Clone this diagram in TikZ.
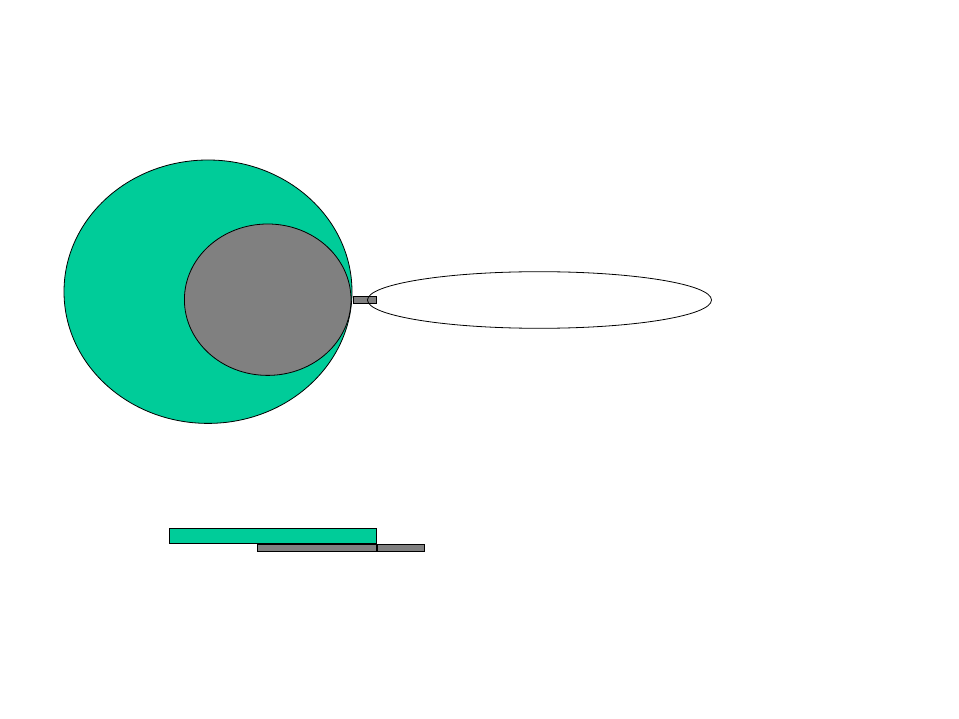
\documentclass[tikz,border=0pt]{standalone}
\definecolor{sea}{HTML}{00CC99}
\definecolor{mgray}{HTML}{808080}
\begin{document}
\begin{tikzpicture}[x=1pt,y=-1pt,line width=0.8pt,
  greenfill/.style={fill=sea,draw=black},
  grayfill/.style={fill=mgray,draw=black}]
\useasboundingbox[fill=white] (0,0) rectangle (959,719);
\path[greenfill] (208,291.7) ellipse [x radius=144, y radius=131.7];
\path[grayfill] (267.7,299.7) ellipse [x radius=83.3, y radius=75.7];
\path[grayfill] (353,296) rectangle (376,303);
\draw (539.5,300) ellipse [x radius=172, y radius=28.3];
\path[greenfill] (169.5,528.3) rectangle (376.5,543.3);
\path[grayfill] (257.3,544.3) rectangle (424.3,551);
\draw[line width=1.2pt] (377,544.3) -- (377,551);
\end{tikzpicture}
\end{document}
